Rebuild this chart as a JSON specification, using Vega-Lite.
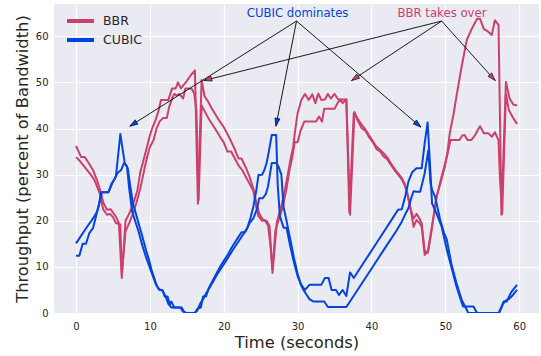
{
  "$schema": "https://vega.github.io/schema/vega-lite/v6.json",
  "width": 485,
  "height": 309,
  "autosize": {"type": "none"},
  "padding": {"left": 54, "top": 4, "right": 2, "bottom": 43},
  "background": "white",
  "config": {
    "view": {"fill": "#EAEAF2", "stroke": null},
    "font": "DejaVu Sans",
    "axis": {
      "domain": false,
      "ticks": false,
      "grid": true,
      "gridColor": "white",
      "gridWidth": 1.2,
      "labelFont": "DejaVu Sans",
      "labelFontSize": 10,
      "labelColor": "#262626",
      "labelFlush": false,
      "labelOverlap": false,
      "titleFont": "DejaVu Sans",
      "titleFontSize": 16.3,
      "titleFontWeight": "normal",
      "titleColor": "#262626"
    },
    "axisX": {"labelPadding": 8, "titlePadding": 3},
    "axisY": {"labelPadding": 6, "titlePadding": 5}
  },
  "datasets": {
    "flows": [
      {"s":"BBR","run":"1","t":0,"v":36.2},{"s":"BBR","run":"1","t":0.7,"v":33.8},{"s":"BBR","run":"1","t":1.2,"v":33.8},{"s":"BBR","run":"1","t":1.8,"v":32.3},{"s":"BBR","run":"1","t":2.3,"v":31},{"s":"BBR","run":"1","t":2.8,"v":29},{"s":"BBR","run":"1","t":3.2,"v":27},{"s":"BBR","run":"1","t":3.7,"v":23.9},{"s":"BBR","run":"1","t":4.2,"v":22.4},{"s":"BBR","run":"1","t":4.7,"v":22.5},{"s":"BBR","run":"1","t":5.0,"v":21.8},{"s":"BBR","run":"1","t":5.4,"v":20.9},{"s":"BBR","run":"1","t":5.8,"v":19.5},{"s":"BBR","run":"1","t":6.2,"v":7.6},{"s":"BBR","run":"1","t":6.7,"v":20},{"s":"BBR","run":"1","t":7.2,"v":21.5},{"s":"BBR","run":"1","t":7.7,"v":23.5},{"s":"BBR","run":"1","t":8.3,"v":26.5},{"s":"BBR","run":"1","t":8.7,"v":30.5},{"s":"BBR","run":"1","t":9.2,"v":33.5},{"s":"BBR","run":"1","t":9.6,"v":36},{"s":"BBR","run":"1","t":10.0,"v":38.5},{"s":"BBR","run":"1","t":10.3,"v":40},{"s":"BBR","run":"1","t":10.8,"v":42},{"s":"BBR","run":"1","t":11.2,"v":44},{"s":"BBR","run":"1","t":11.5,"v":46.2},{"s":"BBR","run":"1","t":12.0,"v":46.2},{"s":"BBR","run":"1","t":12.5,"v":46.2},{"s":"BBR","run":"1","t":13.0,"v":48.7},{"s":"BBR","run":"1","t":13.5,"v":48.7},{"s":"BBR","run":"1","t":13.8,"v":50},{"s":"BBR","run":"1","t":14.2,"v":48.7},{"s":"BBR","run":"1","t":14.6,"v":49.5},{"s":"BBR","run":"1","t":15.0,"v":50.3},{"s":"BBR","run":"1","t":15.5,"v":51.5},{"s":"BBR","run":"1","t":16.1,"v":52.6},{"s":"BBR","run":"1","t":16.5,"v":23.7},{"s":"BBR","run":"1","t":17.0,"v":50.5},{"s":"BBR","run":"1","t":17.4,"v":47},{"s":"BBR","run":"1","t":17.9,"v":45.8},{"s":"BBR","run":"1","t":18.4,"v":44.3},{"s":"BBR","run":"1","t":18.9,"v":43},{"s":"BBR","run":"1","t":19.4,"v":41.7},{"s":"BBR","run":"1","t":20.0,"v":40.3},{"s":"BBR","run":"1","t":20.5,"v":38.8},{"s":"BBR","run":"1","t":21.0,"v":37.2},{"s":"BBR","run":"1","t":21.5,"v":35.5},{"s":"BBR","run":"1","t":22.0,"v":33.5},{"s":"BBR","run":"1","t":22.4,"v":33.5},{"s":"BBR","run":"1","t":23.0,"v":31.5},{"s":"BBR","run":"1","t":23.5,"v":29.5},{"s":"BBR","run":"1","t":24.0,"v":27},{"s":"BBR","run":"1","t":24.4,"v":24},{"s":"BBR","run":"1","t":24.8,"v":21.6},{"s":"BBR","run":"1","t":25.3,"v":20.2},{"s":"BBR","run":"1","t":25.8,"v":20},{"s":"BBR","run":"1","t":26.2,"v":18.8},{"s":"BBR","run":"1","t":26.6,"v":8.7},{"s":"BBR","run":"1","t":27.2,"v":19.8},{"s":"BBR","run":"1","t":27.6,"v":22},{"s":"BBR","run":"1","t":28.0,"v":24.5},{"s":"BBR","run":"1","t":28.5,"v":28.5},{"s":"BBR","run":"1","t":29.0,"v":33},{"s":"BBR","run":"1","t":29.4,"v":36},{"s":"BBR","run":"1","t":29.7,"v":40},{"s":"BBR","run":"1","t":30.0,"v":43.3},{"s":"BBR","run":"1","t":30.5,"v":46.2},{"s":"BBR","run":"1","t":31.0,"v":47.5},{"s":"BBR","run":"1","t":31.5,"v":46.2},{"s":"BBR","run":"1","t":32.0,"v":47.4},{"s":"BBR","run":"1","t":32.4,"v":45.5},{"s":"BBR","run":"1","t":32.8,"v":47.6},{"s":"BBR","run":"1","t":33.2,"v":46.2},{"s":"BBR","run":"1","t":33.7,"v":46.3},{"s":"BBR","run":"1","t":34.1,"v":47.5},{"s":"BBR","run":"1","t":34.5,"v":46.5},{"s":"BBR","run":"1","t":35.0,"v":47.5},{"s":"BBR","run":"1","t":35.5,"v":46.3},{"s":"BBR","run":"1","t":36.0,"v":46.3},{"s":"BBR","run":"1","t":36.6,"v":46.3},{"s":"BBR","run":"1","t":37.1,"v":21.3},{"s":"BBR","run":"1","t":37.7,"v":43.6},{"s":"BBR","run":"1","t":38.2,"v":41.5},{"s":"BBR","run":"1","t":38.7,"v":40},{"s":"BBR","run":"1","t":39.2,"v":39.5},{"s":"BBR","run":"1","t":39.6,"v":38.3},{"s":"BBR","run":"1","t":40.2,"v":37},{"s":"BBR","run":"1","t":40.7,"v":35.5},{"s":"BBR","run":"1","t":41.2,"v":35},{"s":"BBR","run":"1","t":41.6,"v":34},{"s":"BBR","run":"1","t":42.1,"v":33.4},{"s":"BBR","run":"1","t":42.6,"v":32.2},{"s":"BBR","run":"1","t":43.1,"v":31},{"s":"BBR","run":"1","t":43.6,"v":30},{"s":"BBR","run":"1","t":44.1,"v":29},{"s":"BBR","run":"1","t":44.5,"v":27.7},{"s":"BBR","run":"1","t":44.8,"v":26.3},{"s":"BBR","run":"1","t":45.2,"v":23.5},{"s":"BBR","run":"1","t":45.7,"v":18.7},{"s":"BBR","run":"1","t":46.1,"v":20.2},{"s":"BBR","run":"1","t":46.5,"v":19.5},{"s":"BBR","run":"1","t":46.8,"v":18.7},{"s":"BBR","run":"1","t":47.2,"v":12.6},{"s":"BBR","run":"1","t":47.7,"v":13.6},{"s":"BBR","run":"1","t":48.2,"v":18.5},{"s":"BBR","run":"1","t":48.8,"v":25.2},{"s":"BBR","run":"1","t":49.4,"v":28.5},{"s":"BBR","run":"1","t":49.9,"v":31.5},{"s":"BBR","run":"1","t":50.3,"v":35},{"s":"BBR","run":"1","t":50.6,"v":39},{"s":"BBR","run":"1","t":51.1,"v":43},{"s":"BBR","run":"1","t":51.5,"v":46.9},{"s":"BBR","run":"1","t":52.2,"v":53.4},{"s":"BBR","run":"1","t":52.9,"v":59.2},{"s":"BBR","run":"1","t":53.6,"v":61.7},{"s":"BBR","run":"1","t":54.3,"v":63.8},{"s":"BBR","run":"1","t":54.7,"v":63.8},{"s":"BBR","run":"1","t":55.2,"v":61.6},{"s":"BBR","run":"1","t":55.8,"v":61},{"s":"BBR","run":"1","t":56.3,"v":60.3},{"s":"BBR","run":"1","t":56.7,"v":63.5},{"s":"BBR","run":"1","t":57.2,"v":62.5},{"s":"BBR","run":"1","t":57.6,"v":21.3},{"s":"BBR","run":"1","t":58.2,"v":50.1},{"s":"BBR","run":"1","t":58.7,"v":46.5},{"s":"BBR","run":"1","t":59.2,"v":45.2},{"s":"BBR","run":"1","t":59.7,"v":45},
      {"s":"BBR","run":"2","t":0,"v":33.8},{"s":"BBR","run":"2","t":0.5,"v":33},{"s":"BBR","run":"2","t":1.0,"v":32},{"s":"BBR","run":"2","t":1.5,"v":31},{"s":"BBR","run":"2","t":2.0,"v":30},{"s":"BBR","run":"2","t":2.5,"v":28.8},{"s":"BBR","run":"2","t":3.2,"v":26},{"s":"BBR","run":"2","t":3.7,"v":22.4},{"s":"BBR","run":"2","t":4.2,"v":21.3},{"s":"BBR","run":"2","t":4.6,"v":21.5},{"s":"BBR","run":"2","t":5.0,"v":20.8},{"s":"BBR","run":"2","t":5.4,"v":19.5},{"s":"BBR","run":"2","t":6.0,"v":19.2},{"s":"BBR","run":"2","t":6.2,"v":8.5},{"s":"BBR","run":"2","t":6.7,"v":17.7},{"s":"BBR","run":"2","t":7.2,"v":19.5},{"s":"BBR","run":"2","t":7.7,"v":21.5},{"s":"BBR","run":"2","t":8.2,"v":24},{"s":"BBR","run":"2","t":8.7,"v":27},{"s":"BBR","run":"2","t":9.1,"v":30},{"s":"BBR","run":"2","t":9.5,"v":33},{"s":"BBR","run":"2","t":10.0,"v":36},{"s":"BBR","run":"2","t":10.5,"v":37.5},{"s":"BBR","run":"2","t":10.9,"v":40},{"s":"BBR","run":"2","t":11.3,"v":41.5},{"s":"BBR","run":"2","t":11.8,"v":42.3},{"s":"BBR","run":"2","t":12.3,"v":42.3},{"s":"BBR","run":"2","t":12.6,"v":44.6},{"s":"BBR","run":"2","t":13.0,"v":46.5},{"s":"BBR","run":"2","t":13.3,"v":47.5},{"s":"BBR","run":"2","t":13.6,"v":47.2},{"s":"BBR","run":"2","t":14.0,"v":47.5},{"s":"BBR","run":"2","t":14.5,"v":46.5},{"s":"BBR","run":"2","t":14.8,"v":48.7},{"s":"BBR","run":"2","t":15.3,"v":48.7},{"s":"BBR","run":"2","t":15.7,"v":48.5},{"s":"BBR","run":"2","t":16.0,"v":47.6},{"s":"BBR","run":"2","t":16.3,"v":44},{"s":"BBR","run":"2","t":16.6,"v":24.5},{"s":"BBR","run":"2","t":17.0,"v":45},{"s":"BBR","run":"2","t":17.5,"v":43.5},{"s":"BBR","run":"2","t":18.0,"v":42},{"s":"BBR","run":"2","t":18.5,"v":40.8},{"s":"BBR","run":"2","t":19.0,"v":39.5},{"s":"BBR","run":"2","t":19.5,"v":38.2},{"s":"BBR","run":"2","t":20.0,"v":37},{"s":"BBR","run":"2","t":20.5,"v":35},{"s":"BBR","run":"2","t":21.0,"v":35},{"s":"BBR","run":"2","t":21.5,"v":33.5},{"s":"BBR","run":"2","t":22.0,"v":32},{"s":"BBR","run":"2","t":22.5,"v":31},{"s":"BBR","run":"2","t":23.0,"v":29.5},{"s":"BBR","run":"2","t":23.5,"v":28},{"s":"BBR","run":"2","t":24.0,"v":26.5},{"s":"BBR","run":"2","t":24.4,"v":23},{"s":"BBR","run":"2","t":24.7,"v":21},{"s":"BBR","run":"2","t":25.2,"v":20},{"s":"BBR","run":"2","t":25.6,"v":20},{"s":"BBR","run":"2","t":26.0,"v":19},{"s":"BBR","run":"2","t":26.3,"v":15},{"s":"BBR","run":"2","t":26.6,"v":9.5},{"s":"BBR","run":"2","t":27.0,"v":18},{"s":"BBR","run":"2","t":27.5,"v":20.5},{"s":"BBR","run":"2","t":28.0,"v":23},{"s":"BBR","run":"2","t":28.5,"v":27},{"s":"BBR","run":"2","t":28.9,"v":31},{"s":"BBR","run":"2","t":29.3,"v":34},{"s":"BBR","run":"2","t":29.6,"v":37},{"s":"BBR","run":"2","t":30.0,"v":37},{"s":"BBR","run":"2","t":30.4,"v":39.5},{"s":"BBR","run":"2","t":30.9,"v":41.5},{"s":"BBR","run":"2","t":31.4,"v":41.5},{"s":"BBR","run":"2","t":31.9,"v":41.5},{"s":"BBR","run":"2","t":32.5,"v":41.5},{"s":"BBR","run":"2","t":32.9,"v":42.6},{"s":"BBR","run":"2","t":33.3,"v":41.5},{"s":"BBR","run":"2","t":33.6,"v":44.3},{"s":"BBR","run":"2","t":34.3,"v":44.3},{"s":"BBR","run":"2","t":35.0,"v":44.3},{"s":"BBR","run":"2","t":35.4,"v":45.5},{"s":"BBR","run":"2","t":35.8,"v":46.3},{"s":"BBR","run":"2","t":36.1,"v":45.5},{"s":"BBR","run":"2","t":36.6,"v":46.3},{"s":"BBR","run":"2","t":37.0,"v":21.8},{"s":"BBR","run":"2","t":37.6,"v":43.3},{"s":"BBR","run":"2","t":38.1,"v":42.2},{"s":"BBR","run":"2","t":38.6,"v":41},{"s":"BBR","run":"2","t":39.1,"v":40},{"s":"BBR","run":"2","t":39.6,"v":38.7},{"s":"BBR","run":"2","t":40.1,"v":37.5},{"s":"BBR","run":"2","t":40.6,"v":36.2},{"s":"BBR","run":"2","t":41.2,"v":35.3},{"s":"BBR","run":"2","t":41.6,"v":34.7},{"s":"BBR","run":"2","t":42.1,"v":33.8},{"s":"BBR","run":"2","t":42.6,"v":32.5},{"s":"BBR","run":"2","t":43.1,"v":31.3},{"s":"BBR","run":"2","t":43.6,"v":30.3},{"s":"BBR","run":"2","t":44.1,"v":29.3},{"s":"BBR","run":"2","t":44.5,"v":28},{"s":"BBR","run":"2","t":44.9,"v":25.5},{"s":"BBR","run":"2","t":45.3,"v":22.5},{"s":"BBR","run":"2","t":45.7,"v":20.5},{"s":"BBR","run":"2","t":46.1,"v":21.5},{"s":"BBR","run":"2","t":46.5,"v":20.5},{"s":"BBR","run":"2","t":46.8,"v":19.5},{"s":"BBR","run":"2","t":47.2,"v":13.5},{"s":"BBR","run":"2","t":47.6,"v":13},{"s":"BBR","run":"2","t":48.0,"v":17},{"s":"BBR","run":"2","t":48.5,"v":22},{"s":"BBR","run":"2","t":48.8,"v":25},{"s":"BBR","run":"2","t":49.4,"v":29},{"s":"BBR","run":"2","t":49.9,"v":32},{"s":"BBR","run":"2","t":50.3,"v":34.5},{"s":"BBR","run":"2","t":50.7,"v":37.5},{"s":"BBR","run":"2","t":51.1,"v":37.5},{"s":"BBR","run":"2","t":51.5,"v":37.5},{"s":"BBR","run":"2","t":51.9,"v":37.5},{"s":"BBR","run":"2","t":52.3,"v":38.5},{"s":"BBR","run":"2","t":52.6,"v":38.6},{"s":"BBR","run":"2","t":53.0,"v":37.5},{"s":"BBR","run":"2","t":53.5,"v":37.5},{"s":"BBR","run":"2","t":54.0,"v":38.5},{"s":"BBR","run":"2","t":54.5,"v":40},{"s":"BBR","run":"2","t":54.7,"v":40.5},{"s":"BBR","run":"2","t":55.2,"v":39},{"s":"BBR","run":"2","t":55.8,"v":39},{"s":"BBR","run":"2","t":56.3,"v":38.2},{"s":"BBR","run":"2","t":56.7,"v":39.2},{"s":"BBR","run":"2","t":57.2,"v":37.5},{"s":"BBR","run":"2","t":57.4,"v":29},{"s":"BBR","run":"2","t":57.7,"v":21.5},{"s":"BBR","run":"2","t":58.2,"v":47.5},{"s":"BBR","run":"2","t":58.6,"v":44},{"s":"BBR","run":"2","t":59.1,"v":42.5},{"s":"BBR","run":"2","t":59.7,"v":41},
      {"s":"CUBIC","run":"1","t":0,"v":12.4},{"s":"CUBIC","run":"1","t":0.45,"v":12.4},{"s":"CUBIC","run":"1","t":0.9,"v":15},{"s":"CUBIC","run":"1","t":1.35,"v":15},{"s":"CUBIC","run":"1","t":1.8,"v":17.3},{"s":"CUBIC","run":"1","t":2.3,"v":18.4},{"s":"CUBIC","run":"1","t":2.7,"v":20.9},{"s":"CUBIC","run":"1","t":3.1,"v":23.5},{"s":"CUBIC","run":"1","t":3.4,"v":26.2},{"s":"CUBIC","run":"1","t":3.9,"v":26.2},{"s":"CUBIC","run":"1","t":4.4,"v":26.2},{"s":"CUBIC","run":"1","t":4.9,"v":28.1},{"s":"CUBIC","run":"1","t":5.4,"v":29.6},{"s":"CUBIC","run":"1","t":6.0,"v":38.8},{"s":"CUBIC","run":"1","t":6.6,"v":32.5},{"s":"CUBIC","run":"1","t":7.0,"v":31.4},{"s":"CUBIC","run":"1","t":7.3,"v":28},{"s":"CUBIC","run":"1","t":7.7,"v":23.8},{"s":"CUBIC","run":"1","t":8.2,"v":21},{"s":"CUBIC","run":"1","t":8.6,"v":18.7},{"s":"CUBIC","run":"1","t":9.0,"v":16.5},{"s":"CUBIC","run":"1","t":9.5,"v":13.5},{"s":"CUBIC","run":"1","t":9.9,"v":11.5},{"s":"CUBIC","run":"1","t":10.2,"v":9.5},{"s":"CUBIC","run":"1","t":10.6,"v":7.5},{"s":"CUBIC","run":"1","t":10.9,"v":6},{"s":"CUBIC","run":"1","t":11.3,"v":5},{"s":"CUBIC","run":"1","t":11.7,"v":5},{"s":"CUBIC","run":"1","t":12.0,"v":3.6},{"s":"CUBIC","run":"1","t":12.4,"v":3.6},{"s":"CUBIC","run":"1","t":12.7,"v":1.8},{"s":"CUBIC","run":"1","t":12.9,"v":2.5},{"s":"CUBIC","run":"1","t":13.3,"v":1.2},{"s":"CUBIC","run":"1","t":13.8,"v":1.2},{"s":"CUBIC","run":"1","t":14.3,"v":1.2},{"s":"CUBIC","run":"1","t":14.7,"v":0},{"s":"CUBIC","run":"1","t":15.2,"v":0},{"s":"CUBIC","run":"1","t":15.7,"v":0},{"s":"CUBIC","run":"1","t":16.1,"v":0},{"s":"CUBIC","run":"1","t":16.5,"v":1},{"s":"CUBIC","run":"1","t":16.9,"v":1.2},{"s":"CUBIC","run":"1","t":17.2,"v":3.6},{"s":"CUBIC","run":"1","t":17.6,"v":3.6},{"s":"CUBIC","run":"1","t":18.0,"v":5.5},{"s":"CUBIC","run":"1","t":18.5,"v":7},{"s":"CUBIC","run":"1","t":19.0,"v":8.5},{"s":"CUBIC","run":"1","t":19.5,"v":10},{"s":"CUBIC","run":"1","t":20.0,"v":11.3},{"s":"CUBIC","run":"1","t":20.5,"v":12.5},{"s":"CUBIC","run":"1","t":21.0,"v":14},{"s":"CUBIC","run":"1","t":21.5,"v":15.3},{"s":"CUBIC","run":"1","t":22.0,"v":16.5},{"s":"CUBIC","run":"1","t":22.4,"v":17.5},{"s":"CUBIC","run":"1","t":22.8,"v":17.5},{"s":"CUBIC","run":"1","t":23.2,"v":18.5},{"s":"CUBIC","run":"1","t":23.6,"v":20.5},{"s":"CUBIC","run":"1","t":24.0,"v":23},{"s":"CUBIC","run":"1","t":24.4,"v":26.5},{"s":"CUBIC","run":"1","t":24.7,"v":29.9},{"s":"CUBIC","run":"1","t":25.2,"v":30},{"s":"CUBIC","run":"1","t":25.5,"v":31},{"s":"CUBIC","run":"1","t":25.8,"v":32.5},{"s":"CUBIC","run":"1","t":26.1,"v":35},{"s":"CUBIC","run":"1","t":26.5,"v":38.6},{"s":"CUBIC","run":"1","t":27.1,"v":38.6},{"s":"CUBIC","run":"1","t":27.3,"v":28},{"s":"CUBIC","run":"1","t":27.6,"v":21},{"s":"CUBIC","run":"1","t":28.1,"v":18.5},{"s":"CUBIC","run":"1","t":28.5,"v":18.5},{"s":"CUBIC","run":"1","t":29.0,"v":14.5},{"s":"CUBIC","run":"1","t":29.5,"v":11},{"s":"CUBIC","run":"1","t":30.0,"v":8},{"s":"CUBIC","run":"1","t":30.5,"v":6.1},{"s":"CUBIC","run":"1","t":31.0,"v":5},{"s":"CUBIC","run":"1","t":31.6,"v":6.1},{"s":"CUBIC","run":"1","t":32.1,"v":6.1},{"s":"CUBIC","run":"1","t":32.6,"v":6.1},{"s":"CUBIC","run":"1","t":33.2,"v":6.1},{"s":"CUBIC","run":"1","t":33.7,"v":7.6},{"s":"CUBIC","run":"1","t":34.2,"v":7.6},{"s":"CUBIC","run":"1","t":34.6,"v":5},{"s":"CUBIC","run":"1","t":35.2,"v":5},{"s":"CUBIC","run":"1","t":35.6,"v":3.9},{"s":"CUBIC","run":"1","t":36.1,"v":5},{"s":"CUBIC","run":"1","t":36.6,"v":3.7},{"s":"CUBIC","run":"1","t":37.1,"v":8.8},{"s":"CUBIC","run":"1","t":37.6,"v":7.6},{"s":"CUBIC","run":"1","t":38.5,"v":9.8},{"s":"CUBIC","run":"1","t":40.0,"v":13.5},{"s":"CUBIC","run":"1","t":41.5,"v":17.2},{"s":"CUBIC","run":"1","t":43.0,"v":20.9},{"s":"CUBIC","run":"1","t":43.6,"v":22.4},{"s":"CUBIC","run":"1","t":44.1,"v":22.5},{"s":"CUBIC","run":"1","t":44.6,"v":25.5},{"s":"CUBIC","run":"1","t":45.0,"v":28.5},{"s":"CUBIC","run":"1","t":45.5,"v":30.5},{"s":"CUBIC","run":"1","t":46.1,"v":31.4},{"s":"CUBIC","run":"1","t":46.8,"v":31.4},{"s":"CUBIC","run":"1","t":47.2,"v":36.8},{"s":"CUBIC","run":"1","t":47.6,"v":41.3},{"s":"CUBIC","run":"1","t":48.0,"v":30},{"s":"CUBIC","run":"1","t":48.2,"v":23.8},{"s":"CUBIC","run":"1","t":48.8,"v":21.6},{"s":"CUBIC","run":"1","t":49.5,"v":18.7},{"s":"CUBIC","run":"1","t":50.2,"v":13.7},{"s":"CUBIC","run":"1","t":50.8,"v":10.1},{"s":"CUBIC","run":"1","t":51.5,"v":5.8},{"s":"CUBIC","run":"1","t":52.0,"v":3.3},{"s":"CUBIC","run":"1","t":52.4,"v":1.4},{"s":"CUBIC","run":"1","t":52.8,"v":1.4},{"s":"CUBIC","run":"1","t":53.3,"v":1.4},{"s":"CUBIC","run":"1","t":53.8,"v":1.4},{"s":"CUBIC","run":"1","t":54.3,"v":0},{"s":"CUBIC","run":"1","t":55.0,"v":0},{"s":"CUBIC","run":"1","t":56.0,"v":0},{"s":"CUBIC","run":"1","t":57.2,"v":0},{"s":"CUBIC","run":"1","t":57.6,"v":1.3},{"s":"CUBIC","run":"1","t":57.9,"v":2.5},{"s":"CUBIC","run":"1","t":58.3,"v":2.5},{"s":"CUBIC","run":"1","t":58.6,"v":3.5},{"s":"CUBIC","run":"1","t":59.0,"v":4.7},{"s":"CUBIC","run":"1","t":59.7,"v":6.1},
      {"s":"CUBIC","run":"2","t":0,"v":15.1},{"s":"CUBIC","run":"2","t":0.5,"v":16.3},{"s":"CUBIC","run":"2","t":1.0,"v":17.5},{"s":"CUBIC","run":"2","t":1.5,"v":18.7},{"s":"CUBIC","run":"2","t":2.0,"v":19.8},{"s":"CUBIC","run":"2","t":2.5,"v":21},{"s":"CUBIC","run":"2","t":2.9,"v":22.2},{"s":"CUBIC","run":"2","t":3.2,"v":24},{"s":"CUBIC","run":"2","t":3.5,"v":26.2},{"s":"CUBIC","run":"2","t":4.0,"v":26.2},{"s":"CUBIC","run":"2","t":4.4,"v":26.2},{"s":"CUBIC","run":"2","t":4.8,"v":28},{"s":"CUBIC","run":"2","t":5.2,"v":29},{"s":"CUBIC","run":"2","t":5.6,"v":30.3},{"s":"CUBIC","run":"2","t":6.1,"v":31},{"s":"CUBIC","run":"2","t":6.5,"v":32.5},{"s":"CUBIC","run":"2","t":6.9,"v":31.8},{"s":"CUBIC","run":"2","t":7.2,"v":27},{"s":"CUBIC","run":"2","t":7.6,"v":22},{"s":"CUBIC","run":"2","t":8.0,"v":20},{"s":"CUBIC","run":"2","t":8.5,"v":17.5},{"s":"CUBIC","run":"2","t":9.0,"v":14.5},{"s":"CUBIC","run":"2","t":9.5,"v":12},{"s":"CUBIC","run":"2","t":10.0,"v":9.8},{"s":"CUBIC","run":"2","t":10.4,"v":8},{"s":"CUBIC","run":"2","t":10.8,"v":6.3},{"s":"CUBIC","run":"2","t":11.2,"v":5.2},{"s":"CUBIC","run":"2","t":11.7,"v":4.8},{"s":"CUBIC","run":"2","t":12.1,"v":3.7},{"s":"CUBIC","run":"2","t":12.5,"v":2},{"s":"CUBIC","run":"2","t":12.9,"v":1.2},{"s":"CUBIC","run":"2","t":13.5,"v":1.2},{"s":"CUBIC","run":"2","t":14.1,"v":1.2},{"s":"CUBIC","run":"2","t":14.5,"v":0.3},{"s":"CUBIC","run":"2","t":15.0,"v":0},{"s":"CUBIC","run":"2","t":15.5,"v":0},{"s":"CUBIC","run":"2","t":16.0,"v":0},{"s":"CUBIC","run":"2","t":16.4,"v":0.5},{"s":"CUBIC","run":"2","t":16.8,"v":2},{"s":"CUBIC","run":"2","t":17.2,"v":3},{"s":"CUBIC","run":"2","t":17.7,"v":4.5},{"s":"CUBIC","run":"2","t":18.2,"v":5.8},{"s":"CUBIC","run":"2","t":18.7,"v":7.2},{"s":"CUBIC","run":"2","t":19.2,"v":8.6},{"s":"CUBIC","run":"2","t":19.7,"v":9.8},{"s":"CUBIC","run":"2","t":20.2,"v":11},{"s":"CUBIC","run":"2","t":20.7,"v":12.3},{"s":"CUBIC","run":"2","t":21.2,"v":13.6},{"s":"CUBIC","run":"2","t":21.7,"v":14.8},{"s":"CUBIC","run":"2","t":22.2,"v":16},{"s":"CUBIC","run":"2","t":22.6,"v":17},{"s":"CUBIC","run":"2","t":23.0,"v":17.8},{"s":"CUBIC","run":"2","t":23.5,"v":19.5},{"s":"CUBIC","run":"2","t":24.0,"v":20.5},{"s":"CUBIC","run":"2","t":24.5,"v":22.5},{"s":"CUBIC","run":"2","t":24.8,"v":24.9},{"s":"CUBIC","run":"2","t":25.3,"v":24.9},{"s":"CUBIC","run":"2","t":25.7,"v":25.8},{"s":"CUBIC","run":"2","t":26.0,"v":27.5},{"s":"CUBIC","run":"2","t":26.5,"v":32.5},{"s":"CUBIC","run":"2","t":27.1,"v":32.5},{"s":"CUBIC","run":"2","t":27.4,"v":31.8},{"s":"CUBIC","run":"2","t":27.8,"v":30},{"s":"CUBIC","run":"2","t":28.1,"v":23},{"s":"CUBIC","run":"2","t":28.5,"v":20},{"s":"CUBIC","run":"2","t":29.0,"v":16},{"s":"CUBIC","run":"2","t":29.5,"v":12},{"s":"CUBIC","run":"2","t":30.0,"v":8.5},{"s":"CUBIC","run":"2","t":30.4,"v":6.3},{"s":"CUBIC","run":"2","t":30.8,"v":5},{"s":"CUBIC","run":"2","t":31.2,"v":4},{"s":"CUBIC","run":"2","t":31.6,"v":3},{"s":"CUBIC","run":"2","t":32.1,"v":2.5},{"s":"CUBIC","run":"2","t":32.6,"v":2.5},{"s":"CUBIC","run":"2","t":33.1,"v":2.5},{"s":"CUBIC","run":"2","t":33.6,"v":2.5},{"s":"CUBIC","run":"2","t":34.1,"v":1.3},{"s":"CUBIC","run":"2","t":34.6,"v":1.3},{"s":"CUBIC","run":"2","t":35.2,"v":1.3},{"s":"CUBIC","run":"2","t":35.8,"v":1.3},{"s":"CUBIC","run":"2","t":36.6,"v":1.3},{"s":"CUBIC","run":"2","t":38.0,"v":4.7},{"s":"CUBIC","run":"2","t":40.0,"v":9.6},{"s":"CUBIC","run":"2","t":42.0,"v":14.5},{"s":"CUBIC","run":"2","t":43.4,"v":17.9},{"s":"CUBIC","run":"2","t":44.1,"v":19.8},{"s":"CUBIC","run":"2","t":44.6,"v":21.5},{"s":"CUBIC","run":"2","t":45.0,"v":22.7},{"s":"CUBIC","run":"2","t":45.4,"v":25},{"s":"CUBIC","run":"2","t":45.7,"v":26.4},{"s":"CUBIC","run":"2","t":46.1,"v":26.3},{"s":"CUBIC","run":"2","t":46.6,"v":26.3},{"s":"CUBIC","run":"2","t":47.2,"v":30.3},{"s":"CUBIC","run":"2","t":47.7,"v":35.3},{"s":"CUBIC","run":"2","t":48.0,"v":28},{"s":"CUBIC","run":"2","t":48.2,"v":26.7},{"s":"CUBIC","run":"2","t":48.6,"v":25.3},{"s":"CUBIC","run":"2","t":49.3,"v":20.2},{"s":"CUBIC","run":"2","t":49.8,"v":17.5},{"s":"CUBIC","run":"2","t":50.2,"v":15.9},{"s":"CUBIC","run":"2","t":50.8,"v":10.8},{"s":"CUBIC","run":"2","t":51.5,"v":6.5},{"s":"CUBIC","run":"2","t":52.2,"v":2.9},{"s":"CUBIC","run":"2","t":52.9,"v":0.7},{"s":"CUBIC","run":"2","t":53.1,"v":0},{"s":"CUBIC","run":"2","t":54.0,"v":0},{"s":"CUBIC","run":"2","t":55.0,"v":0},{"s":"CUBIC","run":"2","t":56.0,"v":0},{"s":"CUBIC","run":"2","t":57.3,"v":0},{"s":"CUBIC","run":"2","t":57.8,"v":2},{"s":"CUBIC","run":"2","t":58.2,"v":2.7},{"s":"CUBIC","run":"2","t":58.6,"v":3},{"s":"CUBIC","run":"2","t":59.1,"v":3.8},{"s":"CUBIC","run":"2","t":59.7,"v":5}
    ],
    "arrows": [
      {"s":"CUBIC","x0":29.85,"y0":63.3,"x1":7.28,"y1":40.5},
      {"s":"CUBIC","x0":29.85,"y0":63.3,"x1":27.06,"y1":40.5},
      {"s":"CUBIC","x0":29.85,"y0":63.3,"x1":46.7,"y1":40.3},
      {"s":"BBR","x0":49.5,"y0":63.3,"x1":17.3,"y1":50.4},
      {"s":"BBR","x0":49.5,"y0":63.3,"x1":37.3,"y1":50.4},
      {"s":"BBR","x0":49.5,"y0":63.3,"x1":56.75,"y1":50.4}
    ],
    "notes": [
      {"s":"CUBIC","label":"CUBIC dominates","x":30.0,"y":64.2},
      {"s":"BBR","label":"BBR takes over","x":49.55,"y":64.2}
    ]
  },
  "layer": [
    {
      "data": {"name": "flows"},
      "mark": {"type": "line", "strokeWidth": 2, "strokeJoin": "round", "clip": true},
      "encoding": {
        "x": {"field": "t", "type": "quantitative", "title": "Time (seconds)",
              "scale": {"domain": [-2.98, 62.68], "nice": false, "zero": false},
              "axis": {"values": [0, 10, 20, 30, 40, 50, 60]}},
        "y": {"field": "v", "type": "quantitative", "title": "Throughput (percent of Bandwidth)",
              "scale": {"domain": [0, 67], "nice": false},
              "axis": {"values": [0, 10, 20, 30, 40, 50, 60]}},
        "color": {"field": "s", "type": "nominal",
                  "scale": {"domain": ["BBR", "CUBIC"], "range": ["#cb416b", "#0343df"]},
                  "legend": {"title": null, "orient": "none", "legendX": 11, "legendY": 9,
                             "padding": 0, "symbolType": "stroke", "symbolStrokeWidth": 4,
                             "symbolSize": 729, "clipHeight": 16, "rowPadding": 3,
                             "labelFont": "DejaVu Sans", "labelFontSize": 12.5,
                             "labelColor": "#262626", "labelOffset": 7}},
        "detail": {"field": "run"}
      }
    },
    {
      "data": {"name": "arrows"},
      "mark": {"type": "rule", "color": "black", "strokeWidth": 0.9},
      "encoding": {
        "x": {"field": "x0", "type": "quantitative", "title": "Time (seconds)",
              "scale": {"domain": [-2.98, 62.68], "nice": false, "zero": false}},
        "y": {"field": "y0", "type": "quantitative", "title": "Throughput (percent of Bandwidth)",
              "scale": {"domain": [0, 67], "nice": false}},
        "x2": {"field": "x1"},
        "y2": {"field": "y1"}
      }
    },
    {
      "data": {"name": "arrows"},
      "transform": [
        {"calculate": "atan2((datum.x1 - datum.x0) * 7.387, (datum.y1 - datum.y0) * 4.612) * 180 / PI", "as": "heading"}
      ],
      "mark": {"type": "point", "shape": "M0,0L0.45,1.4L-0.45,1.4Z", "filled": true, "size": 130,
               "stroke": "black", "strokeWidth": 0.6, "opacity": 1},
      "encoding": {
        "x": {"field": "x1", "type": "quantitative", "title": "Time (seconds)",
              "scale": {"domain": [-2.98, 62.68], "nice": false, "zero": false}},
        "y": {"field": "y1", "type": "quantitative", "title": "Throughput (percent of Bandwidth)",
              "scale": {"domain": [0, 67], "nice": false}},
        "color": {"field": "s", "type": "nominal",
                  "scale": {"domain": ["BBR", "CUBIC"], "range": ["#cb416b", "#0343df"]}},
        "angle": {"field": "heading", "type": "quantitative", "scale": null}
      }
    },
    {
      "data": {"name": "notes"},
      "mark": {"type": "text", "font": "DejaVu Sans", "fontSize": 11.7, "align": "center", "baseline": "alphabetic"},
      "encoding": {
        "x": {"field": "x", "type": "quantitative", "title": "Time (seconds)",
              "scale": {"domain": [-2.98, 62.68], "nice": false, "zero": false}},
        "y": {"field": "y", "type": "quantitative", "title": "Throughput (percent of Bandwidth)",
              "scale": {"domain": [0, 67], "nice": false}},
        "text": {"field": "label"},
        "color": {"field": "s", "type": "nominal",
                  "scale": {"domain": ["BBR", "CUBIC"], "range": ["#cb416b", "#0343df"]}}
      }
    }
  ]
}
